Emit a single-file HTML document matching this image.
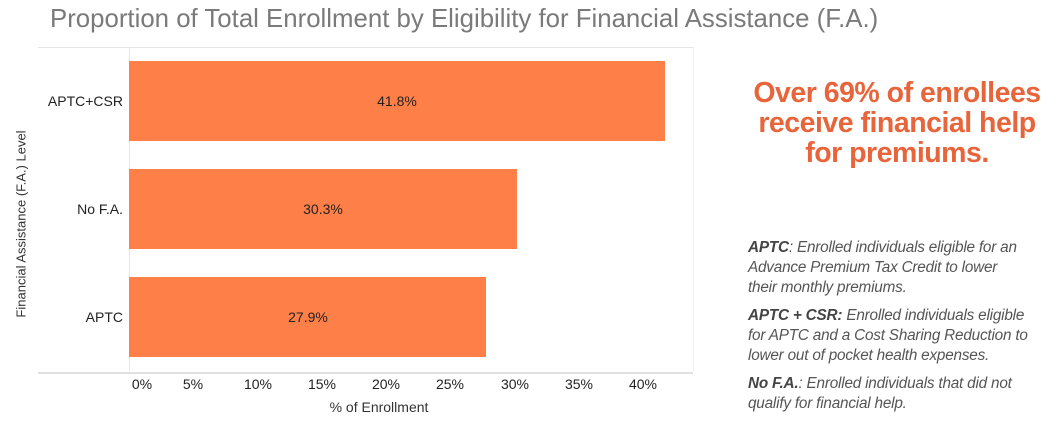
<!DOCTYPE html>
<html><head><meta charset="utf-8"><style>
body{margin:0;width:1064px;height:430px;background:#fff;font-family:"Liberation Sans",sans-serif;position:relative;overflow:hidden}
.a{position:absolute;white-space:nowrap}
.title{left:50px;top:5px;font-size:25.8px;color:#7a7a7a}
.bar{position:absolute;left:129px;height:80px;background:#FF7F48}
.bl{position:absolute;font-size:14px;color:#222;transform:translateX(-50%)}
.cat{position:absolute;font-size:14px;color:#222;right:941px}
.tick{position:absolute;top:376px;font-size:14px;color:#222;transform:translateX(-50%)}
.head{left:742px;width:310px;top:78px;text-align:center;font-size:28.5px;font-weight:bold;color:#E8643A;line-height:30px;letter-spacing:-0.5px}
.note{left:748px;font-size:15.3px;font-style:italic;color:#555;line-height:20px;letter-spacing:-0.2px}
.note b{font-weight:bold;color:#444}
</style></head><body>
<div class="a title">Proportion of Total Enrollment by Eligibility for Financial Assistance (F.A.)</div>
<div style="position:absolute;left:38px;top:47px;width:655px;height:324px;border-top:1px solid #e4e4e4;border-bottom:2px solid #e0e0e0"></div>
<div style="position:absolute;left:129px;top:48px;width:1px;height:323px;background:#e6e6e6"></div>
<div style="position:absolute;left:693px;top:47px;width:1px;height:324px;background:#f0f0f0"></div>
<div class="bar" style="top:61px;width:536px"></div>
<div class="bar" style="top:169px;width:388px"></div>
<div class="bar" style="top:277px;width:357px"></div>
<div class="bl" style="left:397px;top:93px">41.8%</div>
<div class="bl" style="left:323px;top:201px">30.3%</div>
<div class="bl" style="left:308px;top:309px">27.9%</div>
<div class="cat" style="top:93px">APTC+CSR</div>
<div class="cat" style="top:201px">No F.A.</div>
<div class="cat" style="top:309px">APTC</div>
<div class="a" style="left:21px;top:224px;font-size:13px;color:#333;transform:translate(-50%,-50%) rotate(-90deg)">Financial Assistance (F.A.) Level</div>
<div class="tick" style="left:142px">0%</div>
<div class="tick" style="left:193px">5%</div>
<div class="tick" style="left:258px">10%</div>
<div class="tick" style="left:322px">15%</div>
<div class="tick" style="left:386px">20%</div>
<div class="tick" style="left:450px">25%</div>
<div class="tick" style="left:515px">30%</div>
<div class="tick" style="left:579px">35%</div>
<div class="tick" style="left:643px">40%</div>
<div class="a" style="left:379px;top:399px;font-size:14px;color:#333;transform:translateX(-50%)">% of Enrollment</div>
<div class="a head">Over 69% of enrollees<br>receive financial help<br>for premiums.</div>
<div class="a note" style="top:238px"><b>APTC</b>: Enrolled individuals eligible for an<br>Advance Premium Tax Credit to lower<br>their monthly premiums.</div>
<div class="a note" style="top:306px"><b>APTC + CSR:</b> Enrolled individuals eligible<br>for APTC and a Cost Sharing Reduction to<br>lower out of pocket health expenses.</div>
<div class="a note" style="top:374px"><b>No F.A.</b>: Enrolled individuals that did not<br>qualify for financial help.</div>
</body></html>
